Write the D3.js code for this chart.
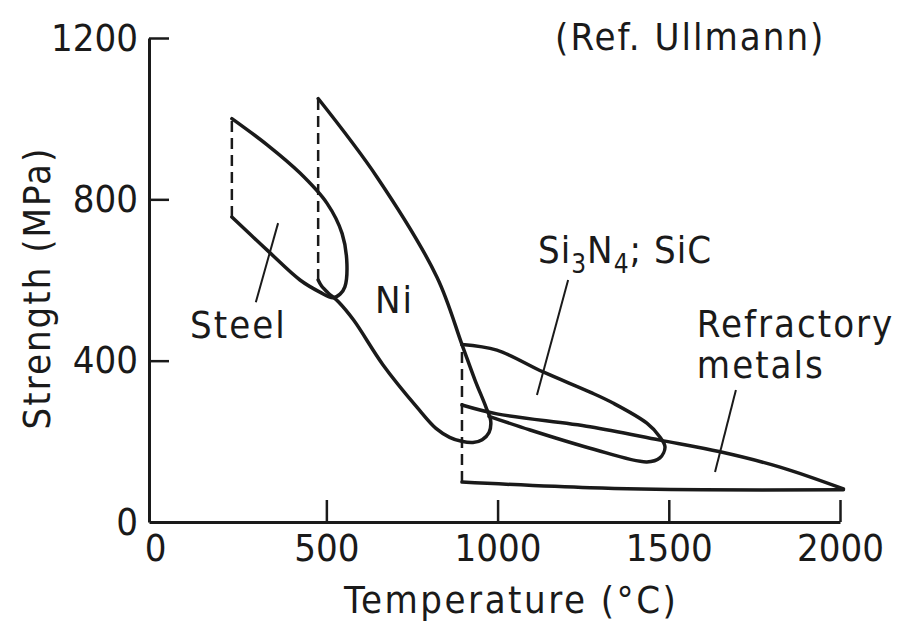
<!DOCTYPE html>
<html>
<head>
<meta charset="utf-8">
<script src="https://cdn.jsdelivr.net/npm/d3@7"></script>
<style>
  body { margin: 0; background: #fff; }
  text { font-family: "DejaVu Sans Condensed", "DejaVu Sans", sans-serif; fill: #1a1a1a; }
</style>
</head>
<body>
<div id="chart"></div>
<script>
// ticks
var xTicks = [0, 500, 1000, 1500, 2000];
var yTicks = [0, 400, 800, 1200];

// outlines, [temperature °C, strength MPa]
var steel = [[224, 1000], [327, 935], [423, 865], [502, 790], [546, 715], [560, 640], [554, 583], [540, 565], [519, 556], [481, 570], [423, 600], [327, 674], [224, 756]];
var nickel = [[476, 1050], [648, 855], [823, 607], [896, 440], [934, 352], [966, 285], [980, 250], [975, 222], [955, 204], [928, 197], [895, 200], [860, 210], [820, 232], [765, 284], [665, 390], [580, 500], [535, 546], [505, 568], [486, 585], [476, 600]];
var ceramic = [[896, 440], [998, 426], [1133, 372], [1270, 322], [1337, 295], [1436, 245], [1474, 211], [1489, 186], [1474, 159], [1436, 149], [1270, 183], [1095, 228], [975, 262]];
var refUpper = [[896, 290], [998, 268], [1270, 236], [1474, 203], [1650, 174], [1825, 136], [2010, 82]];
var refLower = [[896, 99], [1270, 85], [1600, 80], [2010, 80]];

// dashed lower limits
var dashes = [
  [[224, 756], [224, 1000]],
  [[476, 600], [476, 1050]],
  [[896, 99], [896, 440]]
];

// leader lines
var leaders = [
  [[359, 741], [294, 545]],
  [[1206, 600], [1115, 315]],
  [[1696, 327], [1635, 124]]
];

// labels
var labels = [
  { t: 102, s: 456, text: "Steel" },
  { t: 642, s: 518, text: "Ni" },
  { t: 1582, s: 459, text: "Refractory" },
  { t: 1582, s: 357, text: "metals" },
  { t: 1168, s: 1170, text: "(Ref. Ullmann)" }
];

const width = 906;
const height = 621;

var svg = d3.select("#chart")
  .append("svg")
  .attr("width", width)
  .attr("height", height);

var x = d3.scaleLinear().domain([-18, 2000]).range([149, 840]);
var y = d3.scaleLinear().domain([0, 1200]).range([522, 38]);

var line = d3.line()
  .x(function (d) { return x(d[0]); })
  .y(function (d) { return y(d[1]); });

var smooth = d3.line()
  .x(function (d) { return x(d[0]); })
  .y(function (d) { return y(d[1]); })
  .curve(d3.curveCatmullRom.alpha(0.5));

// axes
var xAxis = svg.append("g")
  .attr("transform", `translate(0,${y(0)})`)
  .call(d3.axisBottom(x).tickValues(xTicks).tickFormat(d3.format("d"))
    .tickSizeInner(-22).tickSizeOuter(0).tickPadding(12));

var yAxis = svg.append("g")
  .attr("transform", `translate(${x(-18)},0)`)
  .call(d3.axisLeft(y).tickValues(yTicks).tickFormat(d3.format("d"))
    .tickSizeInner(-20).tickSizeOuter(0).tickPadding(11));

[xAxis, yAxis].forEach(function (g) {
  g.attr("font-family", null).attr("font-size", null);
  g.select(".domain").attr("stroke", "#1a1a1a").attr("stroke-width", 3);
  g.selectAll(".tick line").attr("stroke", "#1a1a1a").attr("stroke-width", 2.5);
  g.selectAll(".tick text").style("font-size", "38px").attr("fill", "#1a1a1a");
});
// no tick marks at the origin
xAxis.selectAll(".tick").filter(function (d) { return d === 0; }).select("line").remove();
yAxis.selectAll(".tick").filter(function (d) { return d === 0; }).select("line").remove();

// axis titles
svg.append("text")
  .attr("x", x(1040))
  .attr("y", 613)
  .attr("text-anchor", "middle")
  .style("font-size", "38px")
  .style("letter-spacing", "2.5px")
  .text("Temperature (°C)");

svg.append("text")
  .attr("transform", `translate(50,${y(580)}) rotate(-90)`)
  .attr("text-anchor", "middle")
  .style("font-size", "38px")
  .style("letter-spacing", "2px")
  .text("Strength (MPa)");

// outlines
svg.append("g").selectAll("path")
  .data([steel, nickel, ceramic, refUpper, refLower])
  .enter().append("path")
  .attr("d", smooth)
  .attr("fill", "none")
  .attr("stroke", "#1a1a1a")
  .attr("stroke-width", 3.5)
  .attr("stroke-linejoin", "round")
  .attr("stroke-linecap", "round");

svg.append("g").selectAll("path")
  .data(dashes)
  .enter().append("path")
  .attr("d", line)
  .attr("fill", "none")
  .attr("stroke", "#1a1a1a")
  .attr("stroke-width", 2.5)
  .attr("stroke-dasharray", "11,6");

svg.append("g").selectAll("path")
  .data(leaders)
  .enter().append("path")
  .attr("d", line)
  .attr("fill", "none")
  .attr("stroke", "#1a1a1a")
  .attr("stroke-width", 2);

// labels
svg.append("g").selectAll("text")
  .data(labels)
  .enter().append("text")
  .attr("x", function (d) { return x(d.t); })
  .attr("y", function (d) { return y(d.s); })
  .style("font-size", "38px")
  .style("letter-spacing", "2px")
  .text(function (d) { return d.text; });

var si = svg.append("text")
  .attr("x", x(1118))
  .attr("y", y(642))
  .style("font-size", "38px")
  .style("letter-spacing", "1px");
si.append("tspan").text("Si");
si.append("tspan").attr("dy", 10).style("font-size", "26px").text("3");
si.append("tspan").attr("dy", -10).text("N");
si.append("tspan").attr("dy", 10).style("font-size", "26px").text("4");
si.append("tspan").attr("dy", -10).text("; SiC");
</script>
</body>
</html>
